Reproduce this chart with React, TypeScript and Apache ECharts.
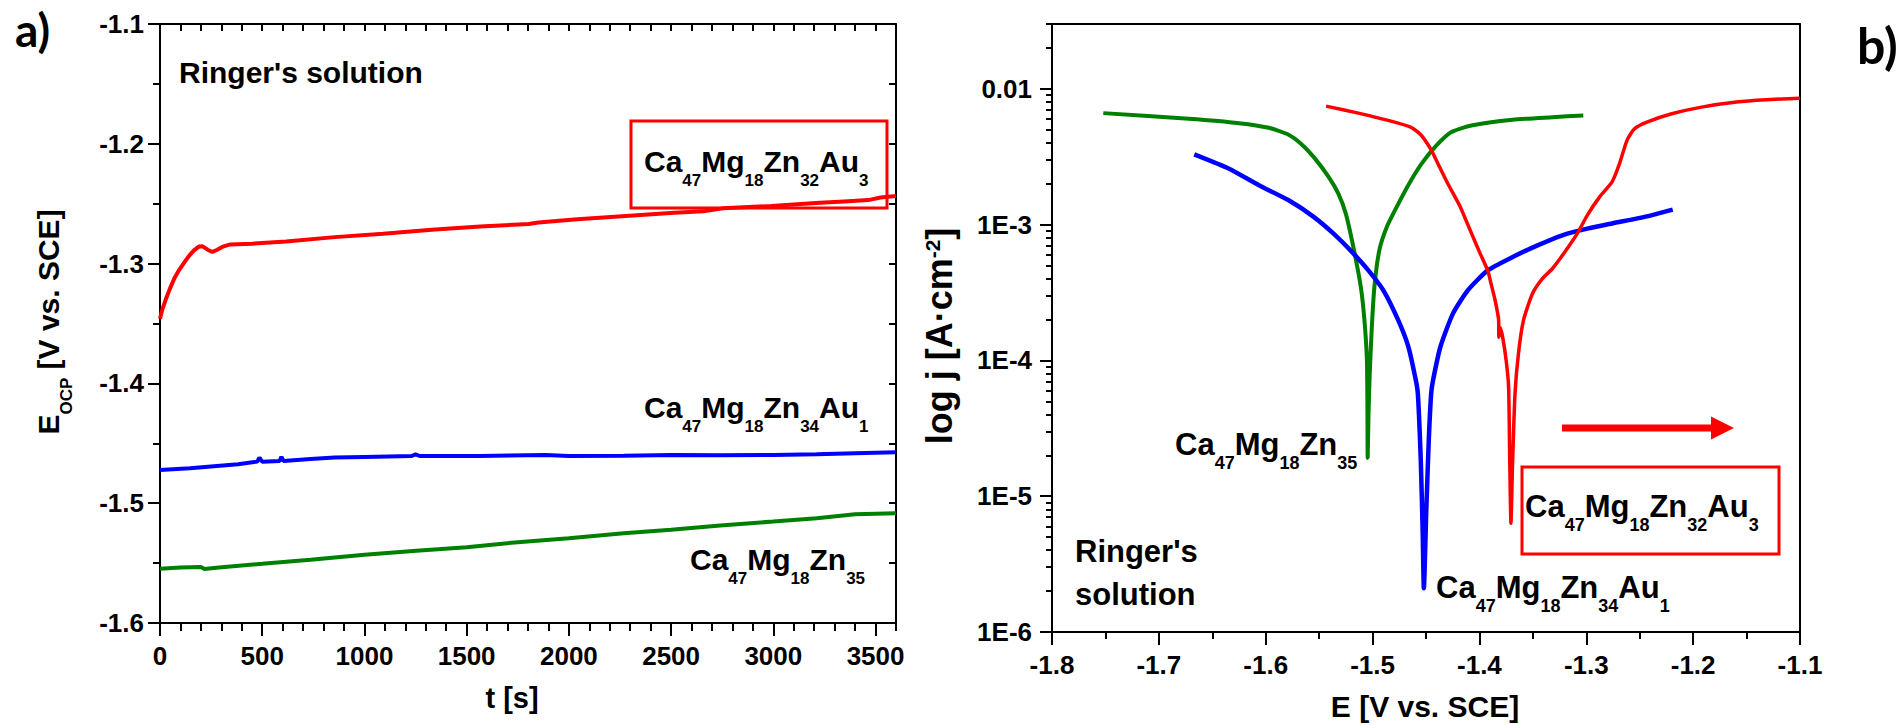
import React, { useEffect, useRef } from 'react';
import * as echarts from 'echarts';

const FONT = "'Liberation Sans', Arial, Helvetica, sans-serif";
const RED = '#ff0000';
const BLUE = '#0000ff';
const GREEN = '#008000';

// ---------- Panel a: open circuit potential vs time  [t (s), E (V vs. SCE)] ----------
const ocpAu3: [number, number][] = [
  [0, -1.346], [12, -1.338], [28, -1.33], [47, -1.3215], [71, -1.312], [95, -1.305], [119, -1.299],
  [142, -1.2935], [166, -1.289], [190, -1.2858], [209, -1.2856], [233, -1.2884], [256, -1.2903],
  [280, -1.2884], [308, -1.2858], [344, -1.284], [451, -1.2834], [617, -1.2815], [854, -1.2779],
  [1092, -1.2751], [1329, -1.2718], [1566, -1.2691], [1803, -1.2669], [1851, -1.2657], [2041, -1.263],
  [2278, -1.2602], [2515, -1.2575], [2658, -1.2564], [2753, -1.2539], [2990, -1.2519], [3227, -1.2492],
  [3346, -1.2481], [3465, -1.247], [3524, -1.2448], [3600, -1.2436],
];
const ocpAu1: [number, number][] = [
  [0, -1.4722], [146, -1.4708], [382, -1.4675], [476, -1.4653], [486, -1.4619], [500, -1.4653],
  [585, -1.4647], [594, -1.4614], [604, -1.4647], [736, -1.4631], [854, -1.4619], [1000, -1.4614],
  [1231, -1.4606], [1250, -1.4592], [1270, -1.4606], [1561, -1.4606], [1887, -1.4597], [2000, -1.4606],
  [2268, -1.4603], [2504, -1.4597], [2740, -1.46], [3000, -1.4597], [3212, -1.4592], [3400, -1.4583],
  [3600, -1.4575],
];
const ocpZn35: [number, number][] = [
  [0, -1.5547], [99, -1.5536], [200, -1.5533], [217, -1.555], [288, -1.5536], [500, -1.5506],
  [736, -1.5472], [1000, -1.5431], [1254, -1.5397], [1500, -1.5367], [1750, -1.5325], [2000, -1.5292],
  [2268, -1.525], [2500, -1.5222], [2740, -1.5186], [3000, -1.5153], [3212, -1.5125], [3400, -1.5092],
  [3600, -1.5083],
];

// ---------- Panel b: polarization curves  [E (V vs. SCE), j (A/cm2)] ----------
const polZn35: [number, number][] = [
  [-1.752, 6.62e-3], [-1.672, 6.01e-3], [-1.625, 5.58e-3], [-1.597, 5.16e-3], [-1.579, 4.61e-3],
  [-1.567, 3.94e-3], [-1.555, 3.14e-3], [-1.541, 2.24e-3], [-1.532, 1.69e-3], [-1.525, 1.2e-3],
  [-1.518, 6.84e-4], [-1.511, 3.47e-4], [-1.5076, 1.97e-4], [-1.5053, 1.0e-4], [-1.5048, 3.98e-5],
  [-1.5046, 1.91e-5], [-1.5038, 4.0e-5], [-1.5028, 7.5e-5], [-1.5007, 1.76e-4], [-1.4983, 3.47e-4],
  [-1.4937, 6.46e-4], [-1.4867, 9.59e-4], [-1.4774, 1.35e-3], [-1.4658, 2.0e-3], [-1.4541, 2.81e-3],
  [-1.4402, 3.83e-3], [-1.4262, 4.8e-3], [-1.4076, 5.37e-3], [-1.3689, 5.92e-3], [-1.3317, 6.18e-3],
  [-1.3028, 6.37e-3],
];
const polAu1: [number, number][] = [
  [-1.6669, 3.29e-3], [-1.6343, 2.58e-3], [-1.6064, 1.95e-3], [-1.5785, 1.51e-3], [-1.5551, 1.14e-3],
  [-1.5365, 8.57e-4], [-1.5178, 6.11e-4], [-1.5039, 4.6e-4], [-1.4899, 3.28e-4], [-1.4759, 1.97e-4],
  [-1.4665, 1.26e-4], [-1.4595, 7.14e-5], [-1.4576, 5.66e-5], [-1.4548, 1.75e-5], [-1.4531, 5.4e-6],
  [-1.452, 2.1e-6], [-1.4497, 7.98e-6], [-1.4474, 2.59e-5], [-1.4452, 5.66e-5], [-1.4434, 7.14e-5],
  [-1.4365, 1.26e-4], [-1.4248, 2.21e-4], [-1.4109, 3.28e-4], [-1.3922, 4.6e-4], [-1.3689, 5.77e-4],
  [-1.3456, 7.03e-4], [-1.3224, 8.34e-4], [-1.2991, 9.33e-4], [-1.2758, 1.02e-3], [-1.2433, 1.15e-3],
  [-1.2191, 1.29e-3],
];
const polAu3: [number, number][] = [
  [-1.5435, 7.45e-3], [-1.5133, 6.62e-3], [-1.4854, 5.85e-3], [-1.4644, 5.22e-3], [-1.4551, 4.61e-3],
  [-1.4458, 3.62e-3], [-1.4388, 2.81e-3], [-1.4295, 2.0e-3], [-1.4179, 1.35e-3], [-1.4086, 9.06e-4],
  [-1.3993, 6.11e-4], [-1.3922, 4.6e-4], [-1.3899, 3.89e-4], [-1.3853, 2.77e-4], [-1.382, 1.97e-4],
  [-1.3818, 1.48e-4], [-1.3805, 1.75e-4], [-1.3783, 1.49e-4], [-1.375, 1.0e-4], [-1.3727, 6.38e-5],
  [-1.3716, 1.75e-5], [-1.3705, 6.31e-6], [-1.369, 1.75e-5], [-1.3667, 5.7e-5], [-1.3635, 1.12e-4],
  [-1.3588, 1.97e-4], [-1.3504, 3.1e-4], [-1.3411, 4.0e-4], [-1.3318, 4.73e-4], [-1.3201, 6.28e-4],
  [-1.3085, 8.57e-4], [-1.2991, 1.17e-3], [-1.2875, 1.6e-3], [-1.2759, 2.06e-3], [-1.2689, 2.81e-3],
  [-1.2619, 4.17e-3], [-1.2549, 5.08e-3], [-1.2433, 5.69e-3], [-1.22, 6.55e-3], [-1.1921, 7.33e-3],
  [-1.1595, 7.98e-3], [-1.1316, 8.3e-3], [-1.1, 8.53e-3],
];

// ---------- Ticks ----------
const aXTicks = [0, 500, 1000, 1500, 2000, 2500, 3000, 3500];
const aXMinorTicks: number[] = [];
for (let t = 100; t <= 3600; t += 100) if (t % 500 !== 0) aXMinorTicks.push(t);
const aYTicks = [-1.6, -1.5, -1.4, -1.3, -1.2, -1.1];
const aYMinorTicks = [-1.55, -1.45, -1.35, -1.25, -1.15];
const bXTicks = [-1.8, -1.7, -1.6, -1.5, -1.4, -1.3, -1.2, -1.1];
const bXMinorTicks = [-1.75, -1.65, -1.55, -1.45, -1.35, -1.25, -1.15];
const bYTicks = [1e-6, 1e-5, 1e-4, 1e-3, 1e-2];
const bYTickLabels = ['1E-6', '1E-5', '1E-4', '1E-3', '0.01'];
const bYMinorTicks: number[] = [];
for (let n = -6; n <= -3; n++) for (let k = 2; k <= 9; k++) bYMinorTicks.push(+(k * Math.pow(10, n)).toPrecision(3));
bYMinorTicks.push(0.02, 0.03);

const BLACK = '#000';
const labelStyle = { color: BLACK, fontSize: 26, fontWeight: 'bold', fontFamily: FONT };

function line(show = true) {
  return { show, onZero: false, lineStyle: { color: BLACK, width: 2 } };
}
function ticks(values: number[], length: number, inside = false) {
  return { show: true, inside, customValues: values, length, lineStyle: { color: BLACK, width: 2 } };
}
const noTicks = { show: false };
const noLabels = { show: false };
const noSplit = { show: false };

function formula(parts: [string, string][], x: number, baseline: number, F: number, f: number, d: number, align = 'left') {
  const text = parts.map(([m, s]) => `{m|${m}}` + (s ? `{s|${s}}` : '')).join('');
  const P = Math.round(0.8465 * (F - f) + d);
  const y0 = baseline - (F / 2 + 0.3465 * F);
  return {
    type: 'text', x, y: y0, z: 100,
    style: {
      text, align, textAlign: align, verticalAlign: 'top', textVerticalAlign: 'top',
      rich: {
        m: { fontSize: F, lineHeight: F, fontWeight: 'bold', fontFamily: FONT, fill: BLACK, verticalAlign: 'top' },
        s: { fontSize: f, fontWeight: 'bold', fontFamily: FONT, fill: BLACK, verticalAlign: 'top', padding: [P, 0, 0, 0] },
      },
    },
  };
}
function plain(text: string, x: number, baseline: number, F: number, align = 'left', family = FONT, central = 0.3465) {
  const y0 = baseline - (F / 2 + central * F);
  return {
    type: 'text', x, y: y0, z: 100,
    style: {
      text, fontSize: F, fontWeight: 'bold', fontFamily: family, fill: BLACK,
      align, textAlign: align, verticalAlign: 'top', textVerticalAlign: 'top',
    },
  };
}

function buildOption() {
  const sub = (F: number, f: number, d: number) => Math.round(0.8465 * (F - f) + d);
  const bTitleF = 36;
  return {
    animation: false,
    backgroundColor: '#fff',
    grid: [
      { left: 160, top: 24, width: 736, height: 599, outerBoundsMode: 'none', containLabel: false },
      { left: 1052, top: 24, width: 748, height: 608, outerBoundsMode: 'none', containLabel: false },
    ],
    xAxis: [
      { gridIndex: 0, type: 'value', position: 'bottom', min: 0, max: 3600, axisLine: line(),
        axisTick: ticks(aXTicks, 13),
        axisLabel: { ...labelStyle, customValues: aXTicks, margin: 20, formatter: (v: number) => String(Math.round(v)) },
        splitLine: noSplit },
      { gridIndex: 0, type: 'value', position: 'bottom', min: 0, max: 3600, axisLine: line(false),
        axisTick: ticks(aXMinorTicks, 8), axisLabel: noLabels, splitLine: noSplit },
      { gridIndex: 0, type: 'value', position: 'top', min: 0, max: 3600, axisLine: line(),
        axisTick: ticks([...aXTicks, ...aXMinorTicks], 7, true), axisLabel: noLabels, splitLine: noSplit },
      { gridIndex: 1, type: 'value', position: 'bottom', min: -1.8, max: -1.1, axisLine: line(),
        axisTick: ticks(bXTicks, 13),
        axisLabel: { ...labelStyle, customValues: bXTicks, margin: 20, formatter: (v: number) => v.toFixed(1) },
        splitLine: noSplit },
      { gridIndex: 1, type: 'value', position: 'bottom', min: -1.8, max: -1.1, axisLine: line(false),
        axisTick: ticks(bXMinorTicks, 7), axisLabel: noLabels, splitLine: noSplit },
      { gridIndex: 1, type: 'value', position: 'top', min: -1.8, max: -1.1, axisLine: line(),
        axisTick: noTicks, axisLabel: noLabels, splitLine: noSplit },
    ],
    yAxis: [
      { gridIndex: 0, type: 'value', position: 'left', min: -1.6, max: -1.1, axisLine: line(),
        axisTick: ticks(aYTicks, 12),
        axisLabel: { ...labelStyle, customValues: aYTicks, margin: 16, formatter: (v: number) => v.toFixed(1) },
        splitLine: noSplit },
      { gridIndex: 0, type: 'value', position: 'left', min: -1.6, max: -1.1, axisLine: line(false),
        axisTick: ticks(aYMinorTicks, 7), axisLabel: noLabels, splitLine: noSplit },
      { gridIndex: 0, type: 'value', position: 'right', min: -1.6, max: -1.1, axisLine: line(),
        axisTick: ticks([...aYTicks, ...aYMinorTicks], 7, true), axisLabel: noLabels, splitLine: noSplit },
      { gridIndex: 1, type: 'log', logBase: 10, position: 'left', min: 1e-6, max: 0.03, axisLine: line(),
        axisTick: ticks(bYTicks, 12),
        axisLabel: {
          ...labelStyle, customValues: bYTicks, margin: 20,
          formatter: (v: number) => {
            let best = 0;
            for (let i = 0; i < bYTicks.length; i++) {
              if (Math.abs(Math.log10(v) - Math.log10(bYTicks[i])) < Math.abs(Math.log10(v) - Math.log10(bYTicks[best]))) best = i;
            }
            return Math.abs(Math.log10(v) - Math.log10(bYTicks[best])) < 0.01 ? bYTickLabels[best] : '';
          },
        },
        splitLine: noSplit, minorTick: { show: false } },
      { gridIndex: 1, type: 'log', logBase: 10, position: 'left', min: 1e-6, max: 0.03, axisLine: line(false),
        axisTick: ticks(bYMinorTicks, 6), axisLabel: noLabels, splitLine: noSplit },
      { gridIndex: 1, type: 'value', position: 'right', min: 0, max: 1, axisLine: line(),
        axisTick: noTicks, axisLabel: noLabels, splitLine: noSplit },
    ],
    series: [
      { name: 'Ca47Mg18Zn32Au3 OCP', type: 'line', xAxisIndex: 0, yAxisIndex: 0, data: ocpAu3, showSymbol: false, symbol: 'none',
        lineStyle: { color: RED, width: 4 }, itemStyle: { color: RED }, z: 5 },
      { name: 'Ca47Mg18Zn34Au1 OCP', type: 'line', xAxisIndex: 0, yAxisIndex: 0, data: ocpAu1, showSymbol: false, symbol: 'none',
        lineStyle: { color: BLUE, width: 4 }, itemStyle: { color: BLUE }, z: 5 },
      { name: 'Ca47Mg18Zn35 OCP', type: 'line', xAxisIndex: 0, yAxisIndex: 0, data: ocpZn35, showSymbol: false, symbol: 'none',
        lineStyle: { color: GREEN, width: 4 }, itemStyle: { color: GREEN }, z: 5 },
      { name: 'Ca47Mg18Zn35 pol', type: 'line', xAxisIndex: 3, yAxisIndex: 3, data: polZn35, showSymbol: false, symbol: 'none',
        smooth: 0.2, lineStyle: { color: GREEN, width: 4 }, itemStyle: { color: GREEN }, z: 5 },
      { name: 'Ca47Mg18Zn34Au1 pol', type: 'line', xAxisIndex: 3, yAxisIndex: 3, data: polAu1, showSymbol: false, symbol: 'none',
        smooth: 0.2, lineStyle: { color: BLUE, width: 4.5 }, itemStyle: { color: BLUE }, z: 5 },
      { name: 'Ca47Mg18Zn32Au3 pol', type: 'line', xAxisIndex: 3, yAxisIndex: 3, data: polAu3, showSymbol: false, symbol: 'none',
        smooth: 0.2, lineStyle: { color: RED, width: 3.5 }, itemStyle: { color: RED }, z: 5 },
    ],
    graphic: [
      plain('a)', 15, 47, 46, 'left', 'Lato, sans-serif', 0.387),
      plain('b)', 1857, 64, 50, 'left', 'Lato, sans-serif', 0.387),
      // panel a annotations
      plain("Ringer's solution", 179, 83, 30),
      { type: 'rect', z: 90, shape: { x: 631, y: 121, width: 256, height: 87 }, style: { fill: 'none', stroke: RED, lineWidth: 3 } },
      formula([['Ca', '47'], ['Mg', '18'], ['Zn', '32'], ['Au', '3']], 644, 172, 30, 17, 14),
      formula([['Ca', '47'], ['Mg', '18'], ['Zn', '34'], ['Au', '1']], 644, 418, 30, 17, 14),
      formula([['Ca', '47'], ['Mg', '18'], ['Zn', '35']], 690, 570, 30, 17, 14),
      plain('t [s]', 512, 708, 29, 'center'),
      {
        type: 'text', x: 33, y: 322, rotation: Math.PI / 2, z: 100,
        style: {
          text: '{m|E}{s|OCP}{m| [V vs. SCE]}', align: 'center', textAlign: 'center', verticalAlign: 'top', textVerticalAlign: 'top',
          rich: {
            m: { fontSize: 30, lineHeight: 30, fontWeight: 'bold', fontFamily: FONT, fill: BLACK, verticalAlign: 'top' },
            s: { fontSize: 17, fontWeight: 'bold', fontFamily: FONT, fill: BLACK, verticalAlign: 'top', padding: [sub(30, 17, 14), 0, 0, 0] },
          },
        },
      },
      // panel b annotations
      formula([['Ca', '47'], ['Mg', '18'], ['Zn', '35']], 1175, 455, 31, 18, 14),
      plain("Ringer's", 1075, 562, 31),
      plain('solution', 1075, 605, 31),
      formula([['Ca', '47'], ['Mg', '18'], ['Zn', '34'], ['Au', '1']], 1436, 598, 31, 18, 14),
      { type: 'rect', z: 90, shape: { x: 1522, y: 467, width: 257, height: 87 }, style: { fill: 'none', stroke: RED, lineWidth: 3 } },
      formula([['Ca', '47'], ['Mg', '18'], ['Zn', '32'], ['Au', '3']], 1525, 517, 31, 18, 14),
      { type: 'rect', z: 90, shape: { x: 1562, y: 424.5, width: 150, height: 7 }, style: { fill: RED } },
      { type: 'polygon', z: 90, shape: { points: [[1711, 416.5], [1734, 428], [1711, 439.5]] }, style: { fill: RED } },
      plain('E [V vs. SCE]', 1425, 717, 30, 'center'),
      {
        type: 'text', x: 952 - (bTitleF / 2 + 0.3465 * bTitleF), y: 336, rotation: Math.PI / 2, z: 100,
        style: {
          text: '{m|log j [A·cm}{p|-2}{m|]}', align: 'center', textAlign: 'center', verticalAlign: 'top', textVerticalAlign: 'top',
          rich: {
            m: { fontSize: bTitleF, lineHeight: bTitleF, fontWeight: 'bold', fontFamily: FONT, fill: BLACK, verticalAlign: 'top' },
            p: { fontSize: 21, fontWeight: 'bold', fontFamily: FONT, fill: BLACK, verticalAlign: 'top' },
          },
        },
      },
    ],
  };
}

export default function App() {
  const ref = useRef<HTMLDivElement>(null);
  useEffect(() => {
    document.body.style.margin = '0';
    const chart = echarts.init(ref.current as HTMLDivElement, null, { renderer: 'svg' });
    chart.setOption(buildOption() as any);
    return () => chart.dispose();
  }, []);
  return <div ref={ref} style={{ width: 1898, height: 725 }} />;
}
